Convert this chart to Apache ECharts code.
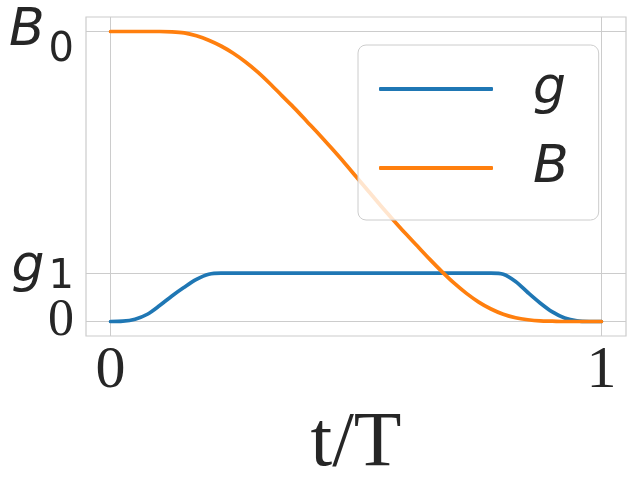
<!DOCTYPE html>
<html>
<head>
<meta charset="utf-8">
<script src="https://cdn.jsdelivr.net/npm/echarts@6/dist/echarts.min.js"></script>
<style>
html, body { margin: 0; padding: 0; background: #fff; }
#main { width: 640px; height: 480px; }
</style>
</head>
<body>
<div id="main"></div>
<script>
// t/T sample points
var tValues = [0, 0.025, 0.05, 0.075, 0.1, 0.125, 0.15, 0.175, 0.2, 0.225,
  0.25, 0.275, 0.3, 0.325, 0.35, 0.375, 0.4, 0.425, 0.45, 0.475,
  0.5, 0.525, 0.55, 0.575, 0.6, 0.625, 0.65, 0.675, 0.7, 0.725,
  0.75, 0.775, 0.8, 0.825, 0.85, 0.875, 0.9, 0.925, 0.95, 0.975, 1];
// g (blue)
var gValues = [0, 0.001, 0.008, 0.025, 0.055, 0.088, 0.118, 0.145, 0.163, 0.167,
  0.167, 0.167, 0.167, 0.167, 0.167, 0.167, 0.167, 0.167, 0.167, 0.167,
  0.167, 0.167, 0.167, 0.167, 0.167, 0.167, 0.167, 0.167, 0.167, 0.167,
  0.167, 0.167, 0.163, 0.138, 0.1, 0.064, 0.033, 0.012, 0.002, 0, 0];
// B (orange)
var bValues = [1, 1, 1, 1, 1, 0.999, 0.995, 0.985, 0.97, 0.95,
  0.925, 0.895, 0.86, 0.82, 0.777, 0.735, 0.69, 0.645, 0.598, 0.55,
  0.5, 0.45, 0.4, 0.352, 0.305, 0.26, 0.215, 0.172, 0.132, 0.097,
  0.067, 0.043, 0.025, 0.013, 0.006, 0.002, 0.001, 0, 0, 0, 0];
var xTicks = [0, 1];
var yTicks = [0, 0.167, 1];
var yTickLabels = ['{n|0}', '{ig|g}{sg|1}', '{i|B}{s|0}'];

var chart = echarts.init(document.getElementById('main'));

function pairs(ys) {
  return tValues.map(function (t, i) { return [t, ys[i]]; });
}
function yLabel(v) {
  var k = yTicks.indexOf(v);
  return k >= 0 ? yTickLabels[k] : '';
}

var txt = '#262626';
var gridC = '#cccccc';
var lineW = 3.7;
var labelRich = {
  n: { fontFamily: 'Liberation Serif', fontSize: 52, color: txt },
  i: { fontFamily: 'DejaVu Sans', fontStyle: 'italic', fontSize: 52,
       lineHeight: 78, color: txt, verticalAlign: 'middle' },
  s: { fontFamily: 'DejaVu Sans', fontSize: 40, color: txt,
       verticalAlign: 'bottom', padding: [0, 0, 0, 4] },
  ig: { fontFamily: 'DejaVu Sans', fontStyle: 'italic', fontSize: 52,
        lineHeight: 64, color: txt, verticalAlign: 'top', padding: [0, 0, 14, 0] },
  sg: { fontFamily: 'DejaVu Sans', fontSize: 40, lineHeight: 40, color: txt,
        verticalAlign: 'top', padding: [17, 0, 0, 4] }
};

var option = {
  animation: false,
  grid: {
    left: 86, right: 14, top: 17, bottom: 144,
    outerBoundsMode: 'none', containLabel: false,
    show: true, borderColor: gridC, borderWidth: 1.2
  },
  legend: {
    orient: 'vertical',
    left: 358, top: 45,
    padding: [18, 30, 26, 21],
    itemWidth: 114, itemHeight: 4, itemGap: 27,
    icon: 'roundRect',
    backgroundColor: 'rgba(255,255,255,0.8)',
    borderColor: gridC, borderWidth: 1, borderRadius: 8,
    textStyle: {
      fontFamily: 'DejaVu Sans', fontStyle: 'italic', fontSize: 52,
      lineHeight: 48, color: txt, padding: [0, 0, 0, 35]
    },
    data: ['g', 'B']
  },
  xAxis: {
    type: 'value', min: -0.05, max: 1.05,
    name: 't/T', nameLocation: 'middle', nameGap: 59,
    nameTextStyle: { fontFamily: 'Liberation Serif', fontSize: 78, color: txt },
    axisLine: { show: false },
    axisTick: { show: false, customValues: xTicks },
    axisLabel: {
      customValues: xTicks, margin: 5,
      fontFamily: 'Liberation Serif', fontSize: 60, color: txt
    },
    splitLine: { show: true, lineStyle: { color: gridC, width: 1 } }
  },
  yAxis: [
    {
      type: 'value', min: -0.05, max: 1.05, position: 'left',
      axisLine: { show: false },
      axisTick: { show: false, customValues: yTicks },
      axisLabel: {
        customValues: yTicks.slice(1), margin: 12, hideOverlap: false,
        formatter: yLabel, rich: labelRich
      },
      splitLine: { show: true, lineStyle: { color: gridC, width: 1 } }
    },
    {
      type: 'value', min: -0.05, max: 1.05, position: 'left', offset: 0,
      axisLine: { show: false },
      axisTick: { show: false, customValues: yTicks.slice(0, 1) },
      axisLabel: {
        customValues: yTicks.slice(0, 1), margin: 12, hideOverlap: false,
        formatter: yLabel, rich: labelRich
      },
      splitLine: { show: false }
    }
  ],
  series: [
    {
      name: 'g', type: 'line', data: pairs(gValues),
      symbol: 'none', smooth: 0.3,
      color: '#1f77b4',
      lineStyle: { width: lineW, color: '#1f77b4', cap: 'round' }
    },
    {
      name: 'B', type: 'line', data: pairs(bValues),
      symbol: 'none', smooth: 0.3,
      color: '#ff7f0e',
      lineStyle: { width: lineW, color: '#ff7f0e', cap: 'round' }
    }
  ]
};
chart.setOption(option);
window.onresize = function () { chart.resize(); };
</script>
</body>
</html>
